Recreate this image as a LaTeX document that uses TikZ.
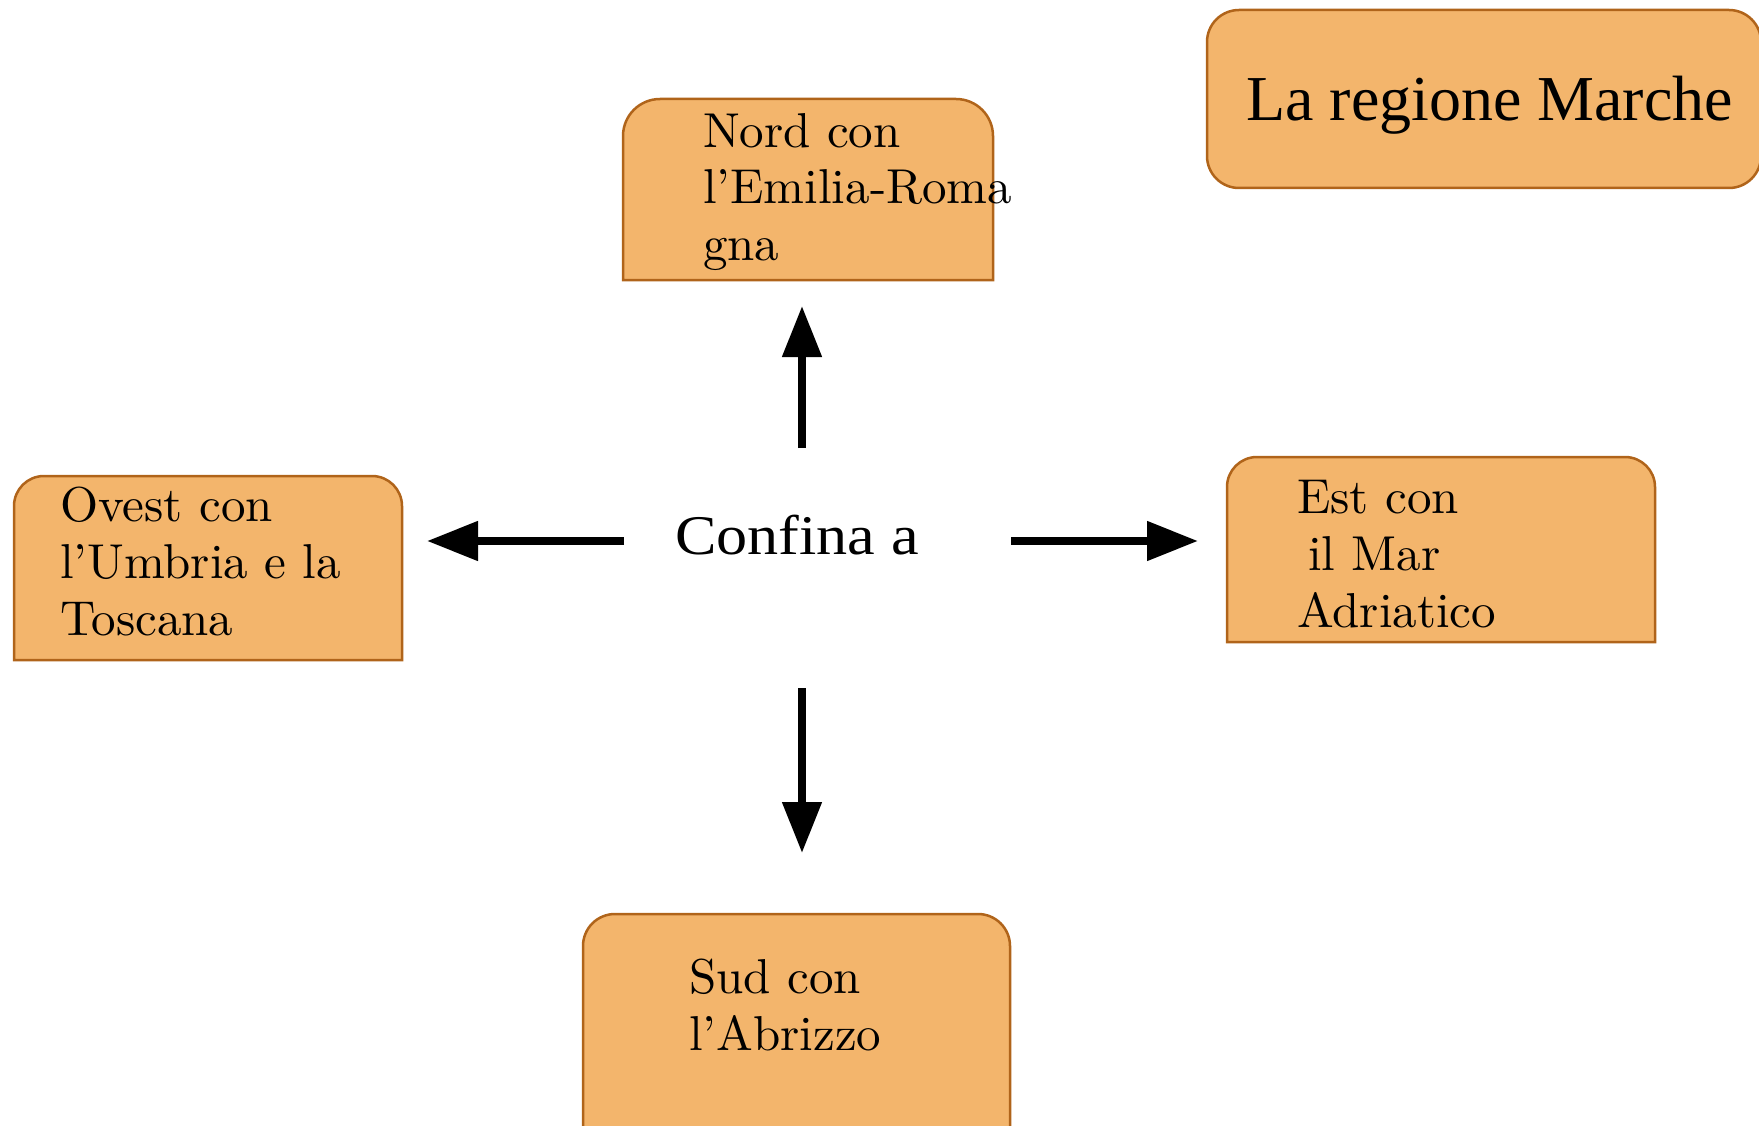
\documentclass[tikz,border=0pt]{standalone}
\usepackage{fontspec}
\setmainfont{Liberation Serif}
\newfontfamily\lmten{lmroman10-regular.otf}
\usetikzlibrary{arrows.meta}
\definecolor{boxfill}{RGB}{243,181,108}
\definecolor{boxedge}{RGB}{176,100,26}
% #1 name, #2 x0, #3 y0, #4 x1, #5 y1, #6 corner radius (top corners only)
\newcommand\tabshape[6]{%
  \path[boxpaint] (#2,#5) -- (#2,{#3+#6})
    .. controls (#2,{#3+0.4477*#6}) and ({#2+0.4477*#6},#3) .. ({#2+#6},#3)
    -- ({#4-#6},#3)
    .. controls ({#4-0.4477*#6},#3) and (#4,{#3+0.4477*#6}) .. (#4,{#3+#6})
    -- (#4,#5) -- cycle;
  \node[boxframe, minimum width={#4-#2}, minimum height={#5-#3}] (#1) at ({(#2+#4)/2},{(#3+#5)/2}) {};%
}
\begin{document}
\begin{tikzpicture}[x=1pt,y=-1pt,
  boxpaint/.style={fill=boxfill, draw=boxedge, line width=2.5pt},
  boxframe/.style={inner sep=0pt, outer sep=0pt, draw=none},
  lmtext/.style={anchor=base west, align=left, inner sep=0pt, font=\fontsize{49pt}{57pt}\lmten},
  arr/.style={line width=8pt, -{Triangle[length=51pt,width=38pt]}}]
\useasboundingbox (0,0) rectangle (1759,1126);
\clip (0,0) rectangle (1759,1126);

% title box
\node[boxpaint, rounded corners=32pt, inner sep=0pt, minimum width=554pt, minimum height=178pt] (marchebox) at (1484,99) {};
\node[anchor=base west, inner sep=0pt, font=\fontsize{64pt}{70pt}\selectfont] (marche) at (1246,121) {La regione Marche};

% border boxes
\tabshape{nord}{623}{99}{993}{280}{37}
\tabshape{ovest}{14}{476}{402}{660}{30}
\tabshape{est}{1227}{457}{1655}{642}{30}
\tabshape{sud}{583}{914}{1010}{1150}{32}

% multi-line texts: anchored at the baseline of their last line
\node[lmtext] (nordtxt) at (703,261) {Nord con\\l’Emilia-Roma\\gna};
\node[lmtext] (ovesttxt) at (60,635) {Ovest con\\l’Umbria e la\\Toscana};
\node[lmtext] (esttxt) at (1297,627) {Est con\\\hspace*{11pt}il Mar\\Adriatico};
\node[lmtext] (sudtxt) at (689,1050) {Sud con\\l’Abrizzo};

% centre
\node[anchor=base west, inner sep=0pt, font=\fontsize{56pt}{60pt}\selectfont] (confina) at (675,554) {\scalebox{1.11}[1]{Confina a}};

\coordinate (cN) at (802,448);
\coordinate (cS) at (802,688);
\coordinate (cW) at (624,541);
\coordinate (cE) at (1011,541);

\draw[arr, shorten >=26pt] (cN) -- (cN |- nord.south);
\draw[arr, shorten >=61pt] (cS) -- (cS |- sud.north);
\draw[arr, shorten >=25pt] (cW) -- (cW -| ovest.east);
\draw[arr, shorten >=29pt] (cE) -- (cE -| est.west);
\end{tikzpicture}
\end{document}
